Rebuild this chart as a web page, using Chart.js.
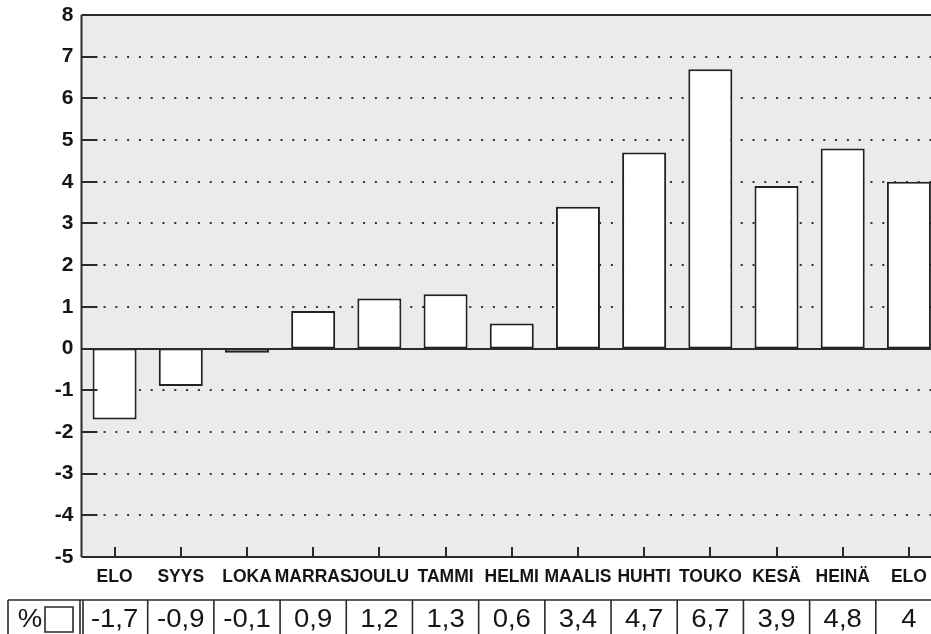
<!DOCTYPE html>
<html><head><meta charset="utf-8">
<script src="https://cdn.jsdelivr.net/npm/chart.js@4"></script>
<style>
html,body{margin:0;padding:0;background:#fff;overflow:hidden;width:931px;height:634px}
#wrap{width:931px;height:634px;overflow:hidden;position:relative}
canvas{display:block}
</style></head><body>
<div id="wrap"><canvas id="c" width="952" height="634"></canvas></div>
<script>
const categories = ['ELO','SYYS','LOKA','MARRAS','JOULU','TAMMI','HELMI','MAALIS','HUHTI','TOUKO','KESÄ','HEINÄ','ELO'];
const changePct = [-1.7,-0.9,-0.1,0.9,1.2,1.3,0.6,3.4,4.7,6.7,3.9,4.8,4];
const yTicks = [8,7,6,5,4,3,2,1,0,-1,-2,-3,-4,-5];
const tableUnit = '%';

const FONT = '"Liberation Sans", Arial, Helvetica, sans-serif';
const INK = '#151515';

const deco = {
  id: 'deco',
  beforeDraw(chart) {
    const {ctx, chartArea: a} = chart;
    ctx.save();
    ctx.fillStyle = '#ebebeb';
    ctx.fillRect(a.left, a.top, a.right - a.left, a.bottom - a.top);
    ctx.restore();
  },
  beforeDatasetsDraw(chart) {
    const {ctx, chartArea: a, scales: {y}} = chart;
    ctx.save();
    ctx.strokeStyle = '#333';
    ctx.lineWidth = 2;
    ctx.setLineDash([2, 9.8]);
    for (const v of yTicks) {
      if (v === yTicks[0] || v === yTicks[yTicks.length - 1] || v === 0) continue;
      const py = Math.round(y.getPixelForValue(v));
      ctx.beginPath();
      ctx.moveTo(a.left + 22, py);
      ctx.lineTo(a.right, py);
      ctx.stroke();
    }
    ctx.restore();
  },
  afterDatasetsDraw(chart) {
    const {ctx, chartArea: a, scales: {x, y}} = chart;
    ctx.save();
    ctx.strokeStyle = '#2a2a2a';
    ctx.lineWidth = 2;
    ctx.setLineDash([]);
    ctx.beginPath();
    ctx.moveTo(a.left, a.top); ctx.lineTo(a.right, a.top);
    ctx.moveTo(a.left, a.top); ctx.lineTo(a.left, a.bottom);
    ctx.moveTo(a.left, a.bottom); ctx.lineTo(a.right, a.bottom);
    ctx.stroke();
    const y0 = Math.round(y.getPixelForValue(0));
    ctx.beginPath(); ctx.moveTo(a.left, y0); ctx.lineTo(a.right, y0); ctx.stroke();
    ctx.beginPath();
    for (const v of yTicks) {
      if (v === yTicks[0] || v === yTicks[yTicks.length - 1]) continue;
      const py = Math.round(y.getPixelForValue(v));
      ctx.moveTo(a.left, py); ctx.lineTo(a.left + 16, py);
    }
    ctx.stroke();
    ctx.beginPath();
    categories.forEach((c, i) => {
      const px = Math.round(x.getPixelForValue(i));
      ctx.moveTo(px, a.bottom); ctx.lineTo(px, a.bottom - 10);
    });
    ctx.stroke();
    ctx.restore();
  },
  afterDraw(chart) {
    const {ctx, scales: {x}} = chart;
    const step = x.getPixelForValue(1) - x.getPixelForValue(0);
    const top = 600, bot = 640, cy = 620;
    ctx.save();
    ctx.strokeStyle = '#2a2a2a';
    ctx.lineWidth = 1.6;
    ctx.beginPath();
    ctx.moveTo(8, top); ctx.lineTo(chart.width, top);
    ctx.moveTo(8, top); ctx.lineTo(8, bot);
    const first = x.getPixelForValue(0) - step / 2;
    ctx.moveTo(first - 1.5, top); ctx.lineTo(first - 1.5, bot);
    ctx.moveTo(first + 1.5, top); ctx.lineTo(first + 1.5, bot);
    for (let i = 1; i <= categories.length; i++) {
      const bx = x.getPixelForValue(i - 1) + step / 2;
      ctx.moveTo(bx, top); ctx.lineTo(bx, bot);
    }
    ctx.rect(45, 607, 28, 25);
    ctx.stroke();
    ctx.fillStyle = INK;
    ctx.font = '25px ' + FONT;
    ctx.textAlign = 'center';
    ctx.textBaseline = 'middle';
    const drawScaled = (t, cx) => {
      ctx.save();
      ctx.translate(cx, cy);
      ctx.scale(1.1, 1);
      ctx.fillText(t, 0, 0);
      ctx.restore();
    };
    drawScaled(tableUnit, 30);
    changePct.forEach((v, i) => {
      drawScaled(String(v).replace('.', ','), x.getPixelForValue(i));
    });
    ctx.restore();
  }
};

new Chart(document.getElementById('c'), {
  type: 'bar',
  data: {
    labels: categories,
    datasets: [{
      data: changePct,
      backgroundColor: '#ffffff',
      borderColor: '#222',
      borderWidth: 2,
      borderSkipped: false,
      categoryPercentage: 1,
      barPercentage: 0.665
    }]
  },
  options: {
    responsive: false,
    devicePixelRatio: 1,
    animation: false,
    layout: { autoPadding: false, padding: { top: 15, right: 10, left: 0, bottom: 0 } },
    plugins: { legend: { display: false }, tooltip: { enabled: false } },
    scales: {
      x: {
        type: 'category',
        offset: true,
        grid: { display: false, drawTicks: false },
        border: { display: false },
        ticks: {
          autoSkip: false, maxRotation: 0, minRotation: 0,
          padding: 10, color: INK,
          font: { family: FONT, size: 17.5, weight: 'bold' }
        },
        afterFit(s) { s.height = 77; s.paddingLeft = 0; s.paddingRight = 0; }
      },
      y: {
        min: -5, max: 8,
        grid: { display: false, drawTicks: false },
        border: { display: false },
        ticks: {
          stepSize: 1, padding: 8, color: INK,
          font: { family: FONT, size: 21, weight: 'bold' }
        },
        afterFit(s) { s.width = 81.5; s.paddingTop = 0; s.paddingBottom = 0; }
      }
    }
  },
  plugins: [deco]
});
</script>
</body></html>
